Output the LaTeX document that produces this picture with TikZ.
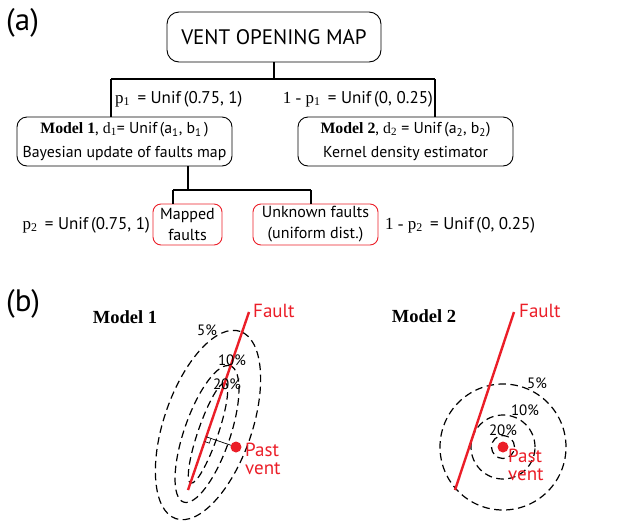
\documentclass[tikz,border=0pt]{standalone}
\usepackage{fontspec}
\setmainfont{PT Sans}
\newfontfamily\tms{Liberation Serif}
\usetikzlibrary{calc}
\definecolor{vred}{RGB}{235,30,40}
\begin{document}
\begin{tikzpicture}[x=1pt,y=1pt,
  box/.style={draw, rounded corners=10pt, line width=0.9pt, align=center, inner sep=0pt,
    minimum width=215pt, minimum height=49pt, font=\fontsize{15.8}{24.5}\selectfont},
  redbox/.style={draw=vred, rounded corners=8pt, line width=0.9pt, align=center, inner sep=0pt,
    minimum height=41pt, font=\fontsize{16}{21}\selectfont},
  conn/.style={line width=1.4pt},
  plabel/.style={inner sep=0pt, font=\fontsize{17}{19}\selectfont},
  panel/.style={inner sep=0pt, font=\fontsize{31}{33}\selectfont},
  modt/.style={inner sep=0pt, font=\fontsize{18.5}{20}\selectfont\tms\bfseries},
  redt/.style={inner sep=0pt, text=vred, font=\fontsize{19}{18}\selectfont, align=left},
  pct/.style={inner sep=0pt, font=\fontsize{15}{16}\selectfont},
  contour/.style={dash pattern=on 7.5pt off 4.5pt, line width=1.2pt},
  faultline/.style={draw=vred, line width=2.4pt}]
\useasboundingbox (0,0) rectangle (642,-520);

% ---------- panel (a)
\node[panel, anchor=west] (pa) at (6,-23) {(a)};
\node[draw, rounded corners=12pt, line width=0.9pt, minimum width=214pt, minimum height=50pt,
      inner sep=0pt, font=\fontsize{21}{24}\selectfont] (top) at (274,-37) {VENT OPENING MAP};
\node[box] (m1) at (124.5,-141.5) {{\tms\bfseries Model 1}, {\tms d\textsubscript{1}}= Unif\,(a\textsubscript{1}, b\textsubscript{1}\,)\\Bayesian update of faults map};
\node[box] (m2) at (405.5,-141.5) {{\tms\bfseries Model 2}, {\tms d\textsubscript{2}} = Unif\,(a\textsubscript{2}, b\textsubscript{2})\\Kernel density estimator};
\node[redbox, minimum width=69pt] (mapped) at (187.5,-224.5) {Mapped\\faults};
\node[redbox, minimum width=125pt] (unknown) at (315.5,-224.5) {Unknown faults\\(uniform dist.)};

\coordinate (L) at (111,-79);
\coordinate (R) at (435,-79);
\draw[conn] (top.south) -- (top.south |- L);
\draw[conn] (L) -- (R);
\draw[conn] (L) -- (L |- m1.north);
\draw[conn] (R) -- (R |- m2.north);
\coordinate (M) at (188,-190);
\coordinate (ML) at (173,-190);
\coordinate (MR) at (311,-190);
\draw[conn] (M |- m1.south) -- (M);
\draw[conn] (ML) -- (MR);
\draw[conn] (ML) -- (ML |- mapped.north);
\draw[conn] (MR) -- (MR |- unknown.north);

\node[plabel, anchor=west] (p1) at (115,-99) {{\tms p\textsubscript{1}}\,\ = Unif\,(0.75, 1)};
\node[plabel, anchor=east] (q1) at (433,-99) {{\tms 1 - p\textsubscript{1}}\,\ = Unif\,(0, 0.25)};
\node[plabel, anchor=east] (p2) at (150,-225) {{\tms p\textsubscript{2}}\,\ = Unif\,(0.75, 1)};
\node[plabel, anchor=west] (q2) at (385,-225) {{\tms 1 - p\textsubscript{2}}\,\ = Unif\,(0, 0.25)};

% ---------- panel (b)
\node[panel, anchor=west] (pb) at (6,-304) {(b)};
\node[modt] (mt1) at (125,-317) {Model 1};
\node[modt] (mt2) at (424,-316) {Model 2};

% Model 1
\draw[contour, rotate around={71:(208,-425)}] (208,-425) ellipse [x radius=99, y radius=44];
\draw[contour, rotate around={71:(207,-434)}] (207,-434) ellipse [x radius=72, y radius=23];
\draw[contour, rotate around={71:(208,-433)}] (208,-433) ellipse [x radius=53, y radius=10];
\coordinate (f1a) at (188,-490);
\coordinate (f1b) at (249,-312);
\draw[faultline] (f1a) -- (f1b);
\coordinate (v1) at (236,-447);
\coordinate (ft) at ($(f1a)!(v1)!(f1b)$);
\draw[line width=0.7pt] (v1) -- (ft);
\coordinate (sqa) at ($(ft)!5pt!(f1a)$);
\coordinate (sqb) at ($(ft)!5pt!(v1)$);
\draw[line width=0.6pt] (sqa) -- ($(sqa)+(sqb)-(ft)$) -- (sqb);
\fill[vred] (v1) circle (5.5);
\node[redt, anchor=base west] (fl1) at (253,-317) {Fault};
\node[redt, anchor=north west] (pv1) at (245,-443) {Past\\vent};
\node[pct] (a5) at (207,-330) {5\%};
\node[pct] (a10) at (232,-360) {10\%};
\node[pct] (a20) at (227,-384) {20\%};

% Model 2
\coordinate (c2) at (503,-447);
\draw[contour] (c2) circle (63);
\draw[contour] (c2) circle (32);
\draw[contour] (c2) circle (11.5);
\coordinate (f2a) at (455,-490);
\coordinate (f2b) at (514,-312);
\draw[faultline] (f2a) -- (f2b);
\fill[vred] (c2) circle (5.5);
\node[redt, anchor=base west] (fl2) at (519,-317) {Fault};
\node[redt, anchor=north west] (pv2) at (508,-449) {Past\\vent};
\node[pct] (b5) at (537,-383) {5\%};
\node[pct] (b10) at (525,-410) {10\%};
\node[pct] (b20) at (503,-430) {20\%};
\end{tikzpicture}
\end{document}
